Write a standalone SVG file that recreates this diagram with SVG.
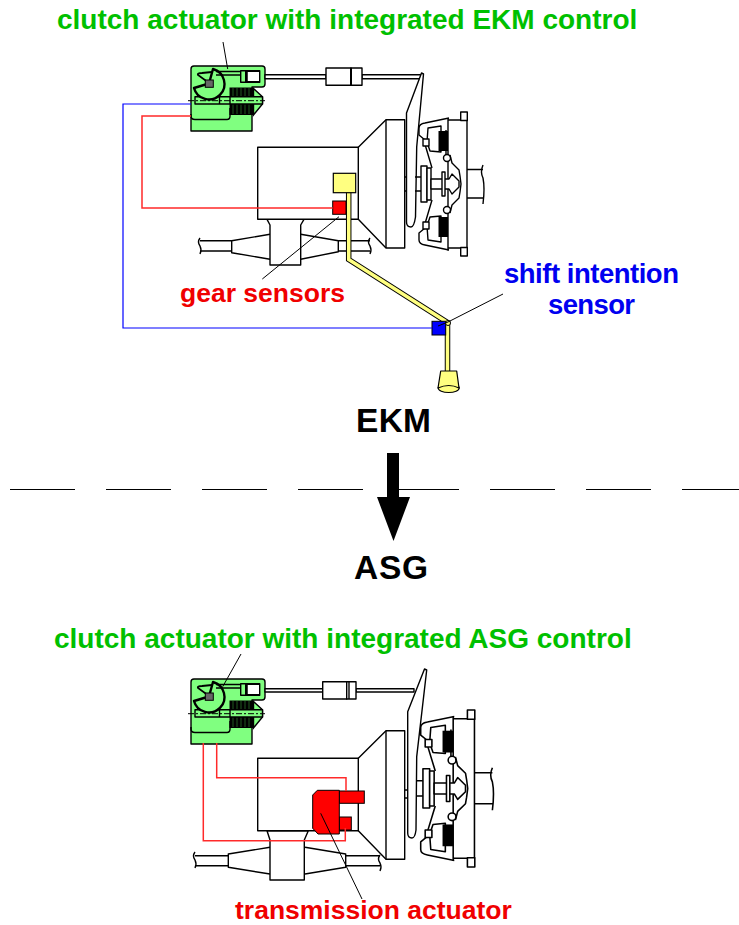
<svg xmlns="http://www.w3.org/2000/svg" xmlns:xlink="http://www.w3.org/1999/xlink" width="739" height="925" viewBox="0 0 739 925">
<style>
text{font-family:"Liberation Sans",Arial,sans-serif;font-weight:700}
.g{fill:#00c000;font-size:28px}
.r{fill:#f00000;font-size:26.500px}
.b{fill:#0000f0;font-size:27.500px}
.k{fill:#000;font-size:33.500px}
.o{fill:none;stroke:#000;stroke-width:1.400;stroke-linejoin:round}
.w{fill:#fff;stroke:#000;stroke-width:1.400;stroke-linejoin:round}
.t{fill:none;stroke:#000;stroke-width:1}
.red{fill:none;stroke:#ff2a2a;stroke-width:1.500}
.blue{fill:none;stroke:#00f;stroke-width:1.200}
.gr{fill:#80ff80;stroke:#000;stroke-width:1.400;stroke-linejoin:round}
.y{fill:#ffff80;stroke:#000;stroke-width:1.200}
</style>
<defs>
<g id="act">
<path class="gr" d="M191 69Q191 66 194 66H262Q265 66 265 69V84Q265 87 262 87H252V131H191Z"/>
<path class="o" d="M191 114V116Q191 119.500 195 119.500H227Q230 119.500 230 116V108"/>
<path d="M229.500 87.500H253.500L253.500 115H229.500Z" fill="#000"/>
<path d="M233 104V114M237 104V114M241 104V114M245 104V114M249 104V114M233 88V96M237 88V96M241 88V96M245 88V96M249 88V96" stroke="#2f7f2f" stroke-width=".7"/>
<path d="M253.500 88.500L262.500 96.700V104L253.500 115Z" fill="#80ff80" stroke="#000" stroke-width="1.400"/>
<rect class="gr" x="195" y="96.700" width="67.500" height="7.300"/>
<path class="o" d="M219.500 96.700V104M230 96.700V104"/>
<path d="M188 100.700H265" fill="none" stroke="#000" stroke-width="1" stroke-dasharray="6 2 2 2"/>
<path d="M213 69A15.500 15.500 0 1 1 194 88L209 83.500Z" fill="#80ff80" stroke="#000" stroke-width="2.400" stroke-linejoin="round"/>
<path d="M209 83L198 75Q197 73 202 73L212 72" fill="none" stroke="#000" stroke-width="1.800"/>
<rect x="205.300" y="80" width="8" height="7.300" fill="#666" stroke="#000"/>
<path class="o" d="M216 71.500H241M216 75H241"/>
<rect class="gr" x="240.700" y="70.700" width="19" height="11.600"/>
<rect x="247" y="71.500" width="12.500" height="10" fill="#fff" stroke="#000"/>
<rect x="245" y="71" width="2.500" height="11" fill="#000"/>
</g>
<g id="clutch">
<path class="o" d="M448 118V250.500M448 120H461M448 248H461M467 120V248"/>
<path class="w" d="M460.700 112H467.300V120.500H460.700ZM460.700 247.500H467.300V256H460.700Z"/>
<path class="o" d="M449 118L425 123Q419 124 419 128V135L425 140V144M449 250L425 245Q419 244 419 240V233L425 228V224"/>
<path class="w" d="M428 128L441 126V152L430 151L427 142ZM428 240L441 242V216L430 217L427 226Z"/>
<rect x="438.500" y="131" width="9.500" height="20" fill="#000"/>
<rect x="438.500" y="217" width="9.500" height="20" fill="#000"/>
<path class="o" d="M424 141L432 168M424 227L432 200"/>
<rect class="w" x="423" y="139" width="6" height="7"/><rect class="w" x="423" y="222" width="6" height="7"/>
<circle class="w" cx="447" cy="158" r="3.500"/><circle class="w" cx="447" cy="210" r="3.500"/>
<path class="o" d="M446 155V130M450 155L452 163L459 170L460 176L461 184L460 192L459 198L452 205L450 213"/>
<rect class="w" x="421" y="166" width="6" height="36"/>
<rect class="w" x="427" y="168" width="4" height="32"/>
<path class="o" d="M415 177H421M415 191H421"/>
<path class="w" d="M431 179H449L452 174L459 181V187L452 194L449 189H431Z"/>
<rect class="w" x="442" y="172" width="3" height="24"/>
<path class="o" d="M467 169.500H483M467 198H483M483 165Q480 172 483 178Q485 188 483 204"/>
</g>
<g id="w1"><path class="o" d="M0 0Q-3 4 0 8Q2 12 0 16"/></g>
</defs>

<g id="lbl-top-title"><text class="g" x="57" y="29">clutch actuator with integrated EKM control</text></g>
<g id="lbl-gear"><text class="r" x="180" y="302">gear sensors</text></g>
<g id="lbl-shift"><text class="b" x="504" y="283" textLength="175" lengthAdjust="spacing">shift intention</text><text class="b" x="548" y="314" textLength="87" lengthAdjust="spacing">sensor</text></g>
<g id="lbl-ekm"><text class="k" x="356" y="432" textLength="75" lengthAdjust="spacing">EKM</text></g>
<g id="lbl-asg"><text class="k" x="354" y="579" textLength="74" lengthAdjust="spacing">ASG</text></g>
<g id="lbl-bottom-title"><text class="g" x="54" y="648">clutch actuator with integrated ASG control</text></g>
<g id="lbl-trans"><text class="r" x="235" y="919.400">transmission actuator</text></g>

<g id="divider" stroke="#000" stroke-width="1" fill="none">
<path d="M10 489.500H75M106 489.500H171M202 489.500H267M298 489.500H363M394 489.500H459M490 489.500H555M586 489.500H651M682 489.500H739"/>
</g>
<g id="big-arrow"><path d="M387 453H399V497H410L393.500 541L377 497H387Z" fill="#000"/></g>

<g id="top-transmission">
<path class="o" d="M200 240.700H231.700M200 251H231.700M338.300 240.700H370M338.300 251H370"/>
<use xlink:href="#w1" x="200" y="238"/><use xlink:href="#w1" x="370" y="238"/>
<path class="o" d="M270 234.300L231.700 240.700V252.700L270 259.300M300.700 234.300L338.300 240.700V251.700L300.700 259.300"/>
<path class="w" d="M267 219.300L270 225V265H300.700V225L304 219.300Z"/>
<path class="w" d="M358.300 147.300L386 119.700H404.700V248H386L358.300 219.300Z"/>
<path class="o" d="M386 119.700V248"/>
<rect class="w" x="257.700" y="147.300" width="100.600" height="72"/>
</g>
<g id="top-actuator">
<use xlink:href="#act"/>
<path class="w" d="M265 74.700H326V78.700H265ZM362 74.700H422V78.700H362Z"/>
<rect class="w" x="326" y="68" width="25" height="17.300"/>
<rect class="w" x="351" y="68" width="11" height="17.300"/>
<path d="M351 68V85.300" stroke="#000" stroke-width="2"/>
<path class="w" d="M421.500 73L423.500 74L416.700 147L415.500 217Q414 227 411 227Q406.500 227 406.500 222V113Z"/>
<path class="o" d="M406.500 177H404.700M406.500 191H404.700"/>
</g>
<use id="top-clutch" xlink:href="#clutch"/>
<g id="top-shift-rod">
<path d="M348.700 192V259.500L447.500 322.500V371" fill="none" stroke="#000" stroke-width="5.500" stroke-linejoin="miter"/>
<path d="M348.700 192V259.500L447.500 322.500V371" fill="none" stroke="#ffff80" stroke-width="3.500" stroke-linejoin="miter"/>
<rect class="y" x="333.300" y="173.300" width="22.400" height="19.400"/>
<rect x="332.700" y="201" width="13.300" height="13.300" fill="#f00" stroke="#000"/>
<rect x="432" y="321.300" width="13.700" height="13.700" fill="#00f" stroke="#000"/>
<circle cx="448" cy="323" r="2.500" fill="#ffff80" stroke="#000"/>
<ellipse class="y" cx="448.700" cy="388" rx="10.500" ry="4.500"/>
<path d="M440.700 371H456.700L459 388Q449 383 438 388Z" fill="#ffff80" stroke="#000" stroke-width="1.200" stroke-linejoin="round"/>
</g>

<g id="bottom-transmission">
<path class="o" d="M195 855.700H228.300M195 865.700H228.300M345.700 855.700H380M345.700 865.700H380"/>
<use xlink:href="#w1" x="195" y="852"/><use xlink:href="#w1" x="380" y="855"/>
<path class="o" d="M270 847.300L228.300 854V867.300L270 874M305 847.300L345.700 854V867.300L305 874"/>
<path class="w" d="M267 830.700L270 840V880H304.300V840L308.300 830.700Z"/>
<path class="w" d="M358.300 758.300L386 730.700H404.700V859.300H386L358.300 830.700Z"/>
<path class="o" d="M386 730.700V859.300"/>
<rect class="w" x="257.700" y="758.300" width="100.600" height="72.400"/>
</g>
<g id="bottom-actuator">
<use xlink:href="#act" transform="translate(0 613)"/>
<path class="w" d="M265 688.700H322.700V692H265ZM356 688.700H414V692H356Z"/>
<rect class="w" x="322.700" y="681.700" width="24" height="17.300"/>
<rect class="w" x="346.700" y="681.700" width="9.300" height="17.300"/>
<path class="o" d="M349 681.700V699"/>
<path class="w" d="M424.500 669L426.700 670L416.700 756.700L416 830Q415 838 412 838Q407.700 838 407.700 833V711.700Z"/>
<path class="o" d="M407.700 790H404.700M407.700 798H404.700"/>
</g>
<use id="bottom-clutch" xlink:href="#clutch" transform="translate(420.700 710) scale(1.120 1.090) translate(-419 -112)"/>
<g id="bottom-trans-actuator">
<rect x="339.300" y="791" width="25" height="12.300" fill="#f00" stroke="#000"/>
<rect x="339.300" y="817" width="12" height="13" fill="#f00" stroke="#000"/>
<path d="M312.700 795L317.300 790.300H339.300V834H318L312.700 828.300Z" fill="#f00" stroke="#000"/>
</g>

<g id="connectors">
<path class="blue" d="M191 104H123V328H432"/>
<path class="red" d="M191 116H142V208H332.700"/>
<path class="red" d="M216.700 743V777.700H346V791"/>
<path class="red" d="M203.300 743V840.700H345.300V828"/>
<path class="t" d="M223 42L227.700 69"/>
<path class="t" d="M339 216.700L262.300 279"/>
<path class="t" d="M438 326L448 322L503 294"/>
<path class="t" d="M241 654L222.700 686.700"/>
<path class="t" d="M320.700 813.300L362 899"/>
</g>
</svg>
